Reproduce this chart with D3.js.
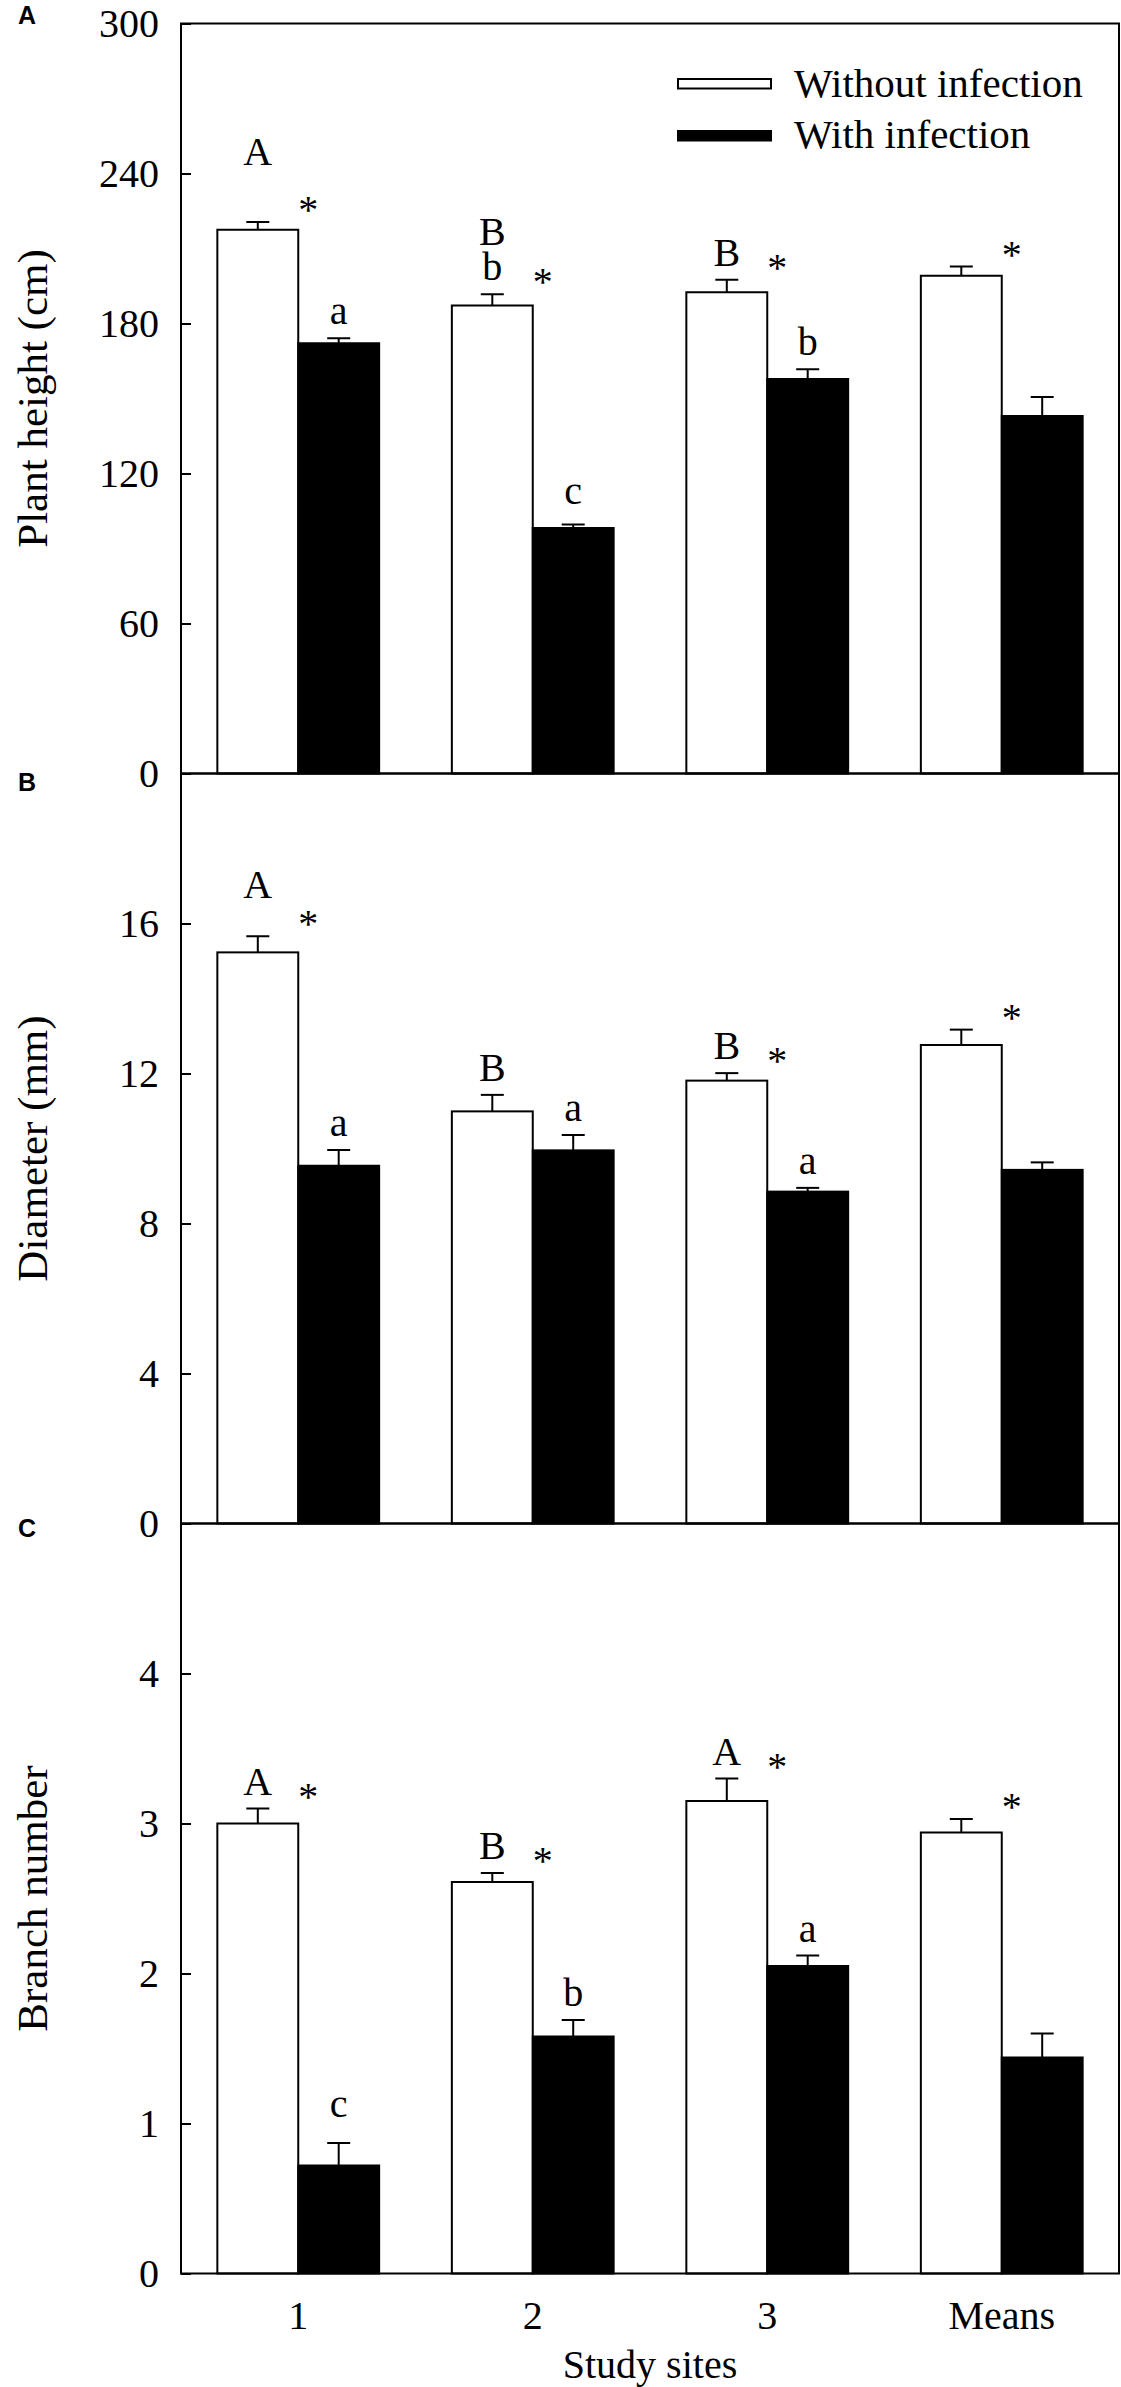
<!DOCTYPE html>
<html>
<head>
<meta charset="utf-8">
<script src="https://cdn.jsdelivr.net/npm/d3@7"></script>
<style>
  body { margin: 0; background: #fff; }
  svg { display: block; }
  .serif { font-family: "Liberation Serif", "Times New Roman", serif; }
</style>
</head>
<body>
<div id="visual"></div>
<script>
// ---- data ----
let sites = ["1", "2", "3", "Means"]
let seriesNames = ["Without infection", "With infection"]

let heightWithout = [217.5, 187.2, 192.5, 199.1]
let heightWithoutSE = [3.1, 4.5, 5.0, 3.7]
let heightWith = [172.1, 98.2, 157.8, 143.0]
let heightWithSE = [2.0, 1.4, 3.9, 7.6]
let heightTicks = [0, 60, 120, 180, 240, 300]
let heightLettersWithout = [["A"], ["B", "b"], ["B"], []]
let heightLettersWith = [["a"], ["c"], ["b"], []]
let heightStars = [true, true, true, true]

let diameterWithout = [15.23, 10.99, 11.81, 12.76]
let diameterWithoutSE = [0.43, 0.44, 0.20, 0.41]
let diameterWith = [9.54, 9.95, 8.85, 9.43]
let diameterWithSE = [0.42, 0.41, 0.10, 0.20]
let diameterTicks = [0, 4, 8, 12, 16]
let diameterLettersWithout = [["A"], ["B"], ["B"], []]
let diameterLettersWith = [["a"], ["a"], ["a"], []]
let diameterStars = [true, false, true, true]

let branchWithout = [3.0, 2.61, 3.15, 2.94]
let branchWithoutSE = [0.10, 0.06, 0.15, 0.09]
let branchWith = [0.72, 1.58, 2.05, 1.44]
let branchWithSE = [0.15, 0.11, 0.07, 0.16]
let branchTicks = [0, 1, 2, 3, 4]
let branchLettersWithout = [["A"], ["B"], ["A"], []]
let branchLettersWith = [["c"], ["b"], ["a"], []]
let branchStars = [true, true, true, true]

// ---- layout ----
let W = 1121, H = 2387
let left = 181, right = 1119
let panelTop = 23.5, panelH = 750
let fontSerif = 40

let panels = [
    { tag: "A", title: "Plant height (cm)", max: 300, ticks: heightTicks,
      means: [heightWithout, heightWith], se: [heightWithoutSE, heightWithSE],
      letters: [heightLettersWithout, heightLettersWith], stars: heightStars, tagDy: 0 },
    { tag: "B", title: "Diameter (mm)", max: 20, ticks: diameterTicks,
      means: [diameterWithout, diameterWith], se: [diameterWithoutSE, diameterWithSE],
      letters: [diameterLettersWithout, diameterLettersWith], stars: diameterStars, tagDy: 17 },
    { tag: "C", title: "Branch number", max: 5, ticks: branchTicks,
      means: [branchWithout, branchWith], se: [branchWithoutSE, branchWithSE],
      letters: [branchLettersWithout, branchLettersWith], stars: branchStars, tagDy: 13 }
]

// extra lift (px) for a few letter labels that sit higher in the original
let letterLift = { "0-0-0": 43, "1-0-0": 24, "2-0-1": 12, "0-1-1": 7 }

var svg = d3.select("#visual")
    .append("svg")
    .attr("width", W)
    .attr("height", H)

svg.append("rect").attr("width", W).attr("height", H).attr("fill", "#fff")

let x0 = d3.scaleBand()
    .domain(sites)
    .range([left, right])
    .paddingInner(0.31)
    .paddingOuter(0.155)

let x1 = d3.scaleBand()
    .domain([0, 1])
    .range([0, x0.bandwidth()])

panels.forEach((p, pi) => {
    let top = panelTop + pi * panelH
    let bottom = top + panelH
    let y = d3.scaleLinear().domain([0, p.max]).range([bottom, top])
    let g = svg.append("g")

    // rows: one per bar
    let rows = []
    sites.forEach((s, gi) => {
        [0, 1].forEach(si => {
            rows.push({ site: s, gi: gi, si: si, v: p.means[si][gi], e: p.se[si][gi],
                        letters: p.letters[si][gi] })
        })
    })

    g.selectAll("rect.bar")
        .data(rows)
        .enter()
        .append("rect")
        .attr("class", "bar")
        .attr("x", d => x0(d.site) + x1(d.si))
        .attr("y", d => y(d.v))
        .attr("width", x1.bandwidth())
        .attr("height", d => bottom - y(d.v))
        .attr("fill", d => d.si === 0 ? "#fff" : "#000")
        .attr("stroke", "#000")
        .attr("stroke-width", 2)

    // error bars (upper only)
    let cap = 11.5
    g.selectAll("line.err")
        .data(rows)
        .enter()
        .append("line")
        .attr("x1", d => x0(d.site) + x1(d.si) + x1.bandwidth() / 2)
        .attr("x2", d => x0(d.site) + x1(d.si) + x1.bandwidth() / 2)
        .attr("y1", d => y(d.v))
        .attr("y2", d => y(d.v + d.e))
        .attr("stroke", "#000")
        .attr("stroke-width", 2)
    g.selectAll("line.cap")
        .data(rows)
        .enter()
        .append("line")
        .attr("x1", d => x0(d.site) + x1(d.si) + x1.bandwidth() / 2 - cap)
        .attr("x2", d => x0(d.site) + x1(d.si) + x1.bandwidth() / 2 + cap)
        .attr("y1", d => y(d.v + d.e))
        .attr("y2", d => y(d.v + d.e))
        .attr("stroke", "#000")
        .attr("stroke-width", 2)

    // significance letters (stacked lines in one text element)
    rows.filter(d => d.letters.length > 0).forEach(d => {
        let lift = letterLift[pi + "-" + d.gi + "-" + d.si] || 0
        let n = d.letters.length
        let cx = x0(d.site) + x1(d.si) + x1.bandwidth() / 2
        let t = g.append("text")
            .attr("class", "serif")
            .attr("x", cx)
            .attr("y", y(d.v + d.e) - 14 - lift - (n - 1) * 35)
            .attr("text-anchor", "middle")
            .attr("font-size", fontSerif)
        d.letters.forEach((l, li) => {
            t.append("tspan")
                .attr("x", cx)
                .attr("dy", li === 0 ? 0 : 35)
                .text(l)
        })
    })

    // stars
    g.selectAll("text.star")
        .data(sites.filter((s, i) => p.stars[i]))
        .enter()
        .append("text")
        .attr("class", "serif")
        .attr("x", s => x0(s) + x0.bandwidth() / 2 + 10)
        .attr("y", s => {
            let i = sites.indexOf(s)
            return y(p.means[0][i] + p.se[0][i]) + 1
        })
        .attr("text-anchor", "middle")
        .attr("font-size", fontSerif)
        .text("*")

    // y axis
    let axis = g.append("g")
        .attr("transform", "translate(" + left + ",0)")
        .call(d3.axisLeft(y).tickValues(p.ticks).tickSize(-10).tickPadding(22)
            .tickFormat(d3.format("d")))
    axis.select(".domain").remove()
    axis.selectAll("line").attr("stroke-width", 2)
    axis.selectAll("text")
        .attr("class", "serif")
        .attr("font-size", fontSerif)
        .attr("fill", "#000")

    // panel frame
    g.append("rect")
        .attr("x", left)
        .attr("y", top)
        .attr("width", right - left)
        .attr("height", panelH)
        .attr("fill", "none")
        .attr("stroke", "#000")
        .attr("stroke-width", 2)

    // y title
    g.append("text")
        .attr("class", "serif")
        .attr("transform", "translate(47," + (top + panelH / 2) + ") rotate(-90)")
        .attr("text-anchor", "middle")
        .attr("font-size", 43)
        .text(p.title)

    // panel tag
    g.append("text")
        .attr("x", 18)
        .attr("y", top + p.tagDy)
        .attr("font-family", "'Liberation Sans', Arial, sans-serif")
        .attr("font-weight", "bold")
        .attr("font-size", 25)
        .text(p.tag)
})

// x labels
let bottomY = panelTop + 3 * panelH
svg.selectAll("text.site")
    .data(sites)
    .enter()
    .append("text")
    .attr("class", "serif")
    .attr("x", d => x0(d) + x0.bandwidth() / 2)
    .attr("y", bottomY + 55)
    .attr("text-anchor", "middle")
    .attr("font-size", fontSerif)
    .text(d => d)

svg.append("text")
    .attr("class", "serif")
    .attr("x", (left + right) / 2)
    .attr("y", 2378)
    .attr("text-anchor", "middle")
    .attr("font-size", fontSerif)
    .text("Study sites")

// legend
let legend = svg.append("g")
seriesNames.forEach((name, i) => {
    legend.append("rect")
        .attr("x", 678)
        .attr("y", 79 + i * 52)
        .attr("width", 93)
        .attr("height", 9.5)
        .attr("fill", i === 0 ? "#fff" : "#000")
        .attr("stroke", "#000")
        .attr("stroke-width", 2)
    legend.append("text")
        .attr("class", "serif")
        .attr("x", 794)
        .attr("y", 97 + i * 50.5)
        .attr("font-size", 41)
        .text(name)
})
</script>
</body>
</html>
